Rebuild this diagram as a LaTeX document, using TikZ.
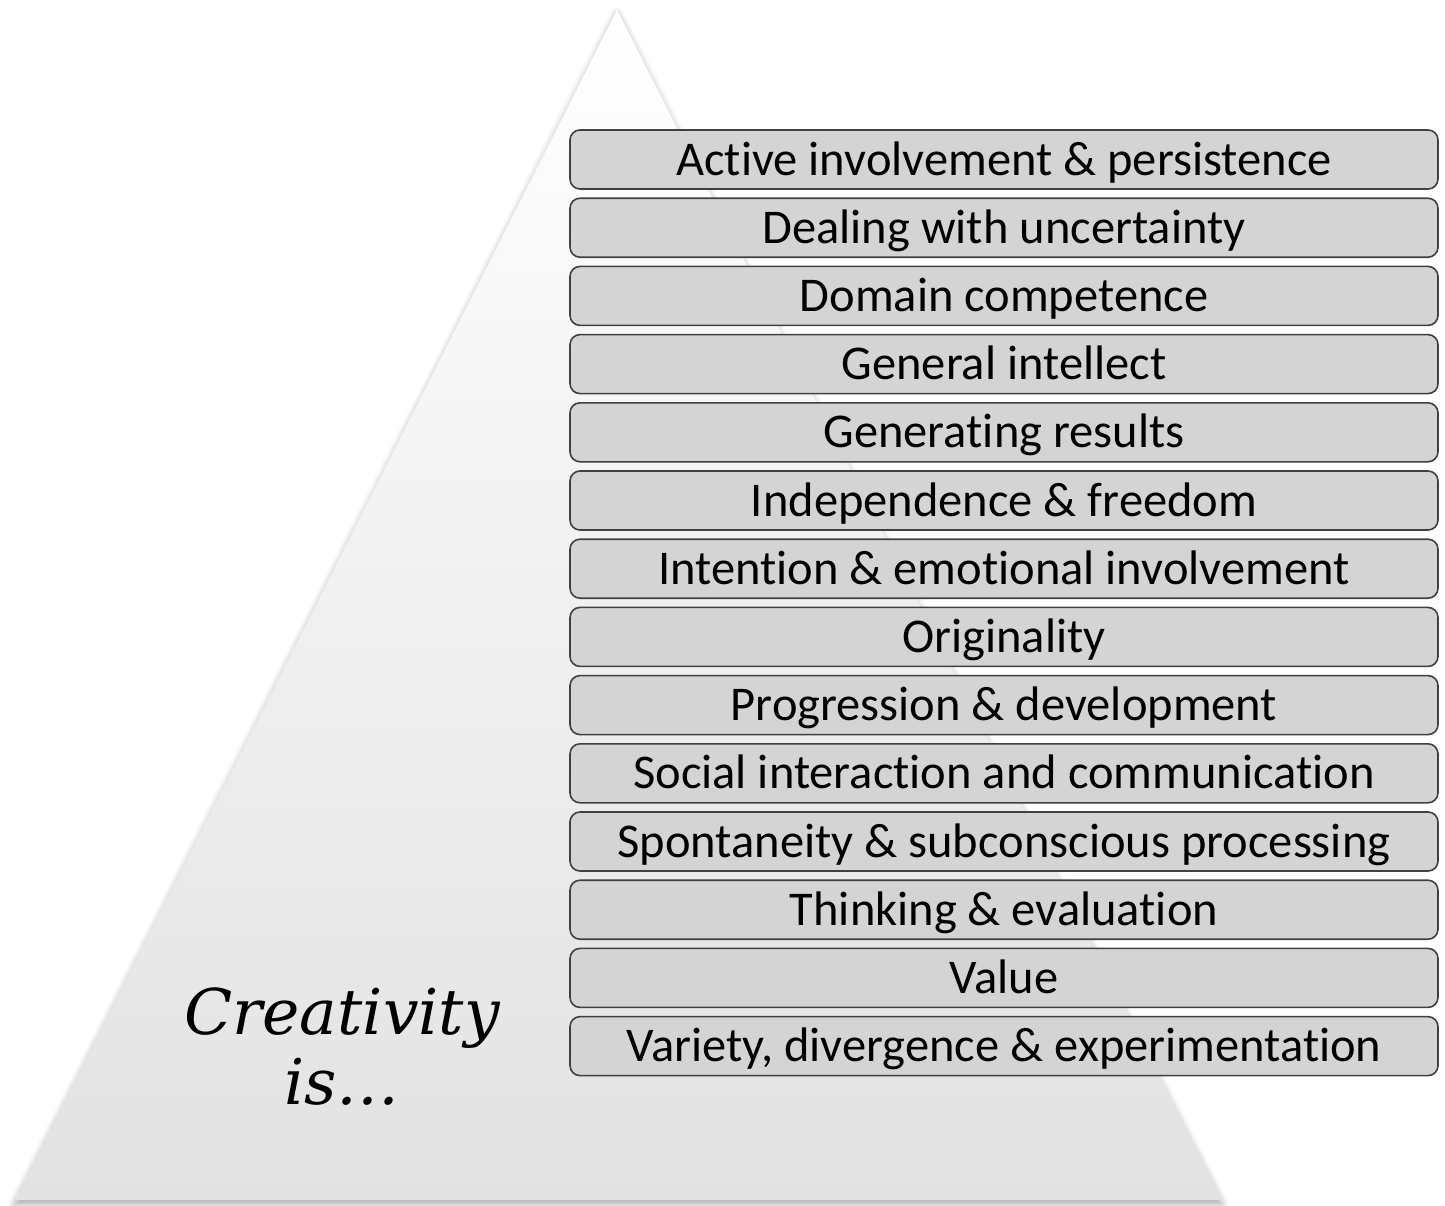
\documentclass[tikz,border=0pt]{standalone}
\usepackage{fontspec}
\setmainfont{Carlito}[Ligatures={NoCommon}]
\newfontfamily\quotefont{DejaVu Serif}
\usetikzlibrary{positioning, shadows.blur}

\definecolor{boxgray}{HTML}{D4D4D4}
\definecolor{boxline}{HTML}{404040}
\definecolor{pyrbottom}{HTML}{E2E2E2}

\begin{document}
\begin{tikzpicture}[
    x=1pt, y=-1pt,
    font=\fontsize{48.5}{52}\selectfont,
    trait/.style={
        draw=boxline, fill=boxgray, line width=1.6pt,
        rounded corners=10pt,
        minimum width=868pt, minimum height=59pt,
        text height=33pt, text depth=2pt,
        inner sep=0pt, text=black, align=center
    },
    pyramid/.style={top color=white, bottom color=pyrbottom, draw=none,
        blur shadow={shadow xshift=0pt, shadow yshift=-4pt, shadow blur radius=7pt, shadow opacity=35}},
    label/.style={font=\quotefont\itshape\fontsize{63}{70}\selectfont, align=center}
]
\useasboundingbox (0,0) rectangle (1445,1205);

% Pyramid
\path[pyramid] (617,10) -- (1222,1200) -- (15,1200) -- cycle;

\node[label] (creativity) at (342,1047) {Creativity\\is\dots};

%%%%%%%%%%%%%%%%%%%%%
% Traits stacked down the right side
%%%%%%%%%%%%%%%%%%%%%
\begin{scope}[node distance=7.6pt]
    \node[trait] (active) at (1004,159.5) {Active involvement \& persistence};
    \node[trait, below=of active] (uncertainty) {Dealing with uncertainty};
    \node[trait, below=of uncertainty] (domain) {Domain competence};
    \node[trait, below=of domain] (intellect) {General intellect};
    \node[trait, below=of intellect] (results) {Generating results};
    \node[trait, below=of results] (independence) {Independence \& freedom};
    \node[trait, below=of independence] (intention) {Intention \& emotional involvement};
    \node[trait, below=of intention] (originality) {Originality};
    \node[trait, below=of originality] (progression) {Progression \& development};
    \node[trait, below=of progression] (social) {Social interaction and communication};
    \node[trait, below=of social] (spontaneity) {Spontaneity \& subconscious processing};
    \node[trait, below=of spontaneity] (thinking) {Thinking \& evaluation};
    \node[trait, below=of thinking] (value) {Value};
    \node[trait, below=of value] (variety) {Variety, divergence \& experimentation};
\end{scope}

\end{tikzpicture}
\end{document}
